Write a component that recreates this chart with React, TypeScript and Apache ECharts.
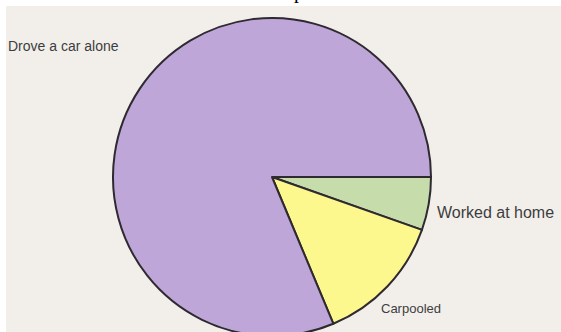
import React, { useEffect, useRef } from "react";
import * as echarts from "echarts";

const categories = ["Worked at home", "Carpooled", "Drove a car alone"];
const shares = [5.4, 13.3, 81.3];
const sliceColors = ["#c6dcab", "#fdf88d", "#bea6d9"];

export default function App() {
  const ref = useRef<HTMLDivElement>(null);
  useEffect(() => {
    if (!ref.current) return;
    const chart = echarts.init(ref.current, null, { renderer: "svg" });
    const labelPos: Record<number, [number, number]> = {
      0: [431, 206],
      1: [375, 302],
      2: [2, 40],
    };
    const labelSize = [16, 13, 14];
    chart.setOption({
      animation: false,
      backgroundColor: "#f2efeb",
      series: [
        {
          type: "pie",
          center: [266, 171],
          radius: [0, 159],
          startAngle: 0,
          clockwise: true,
          silent: true,
          data: categories.map((name, i) => ({
            name,
            value: shares[i],
            itemStyle: { color: sliceColors[i] },
            label: { fontSize: labelSize[i] },
          })),
          itemStyle: { borderColor: "#2e2a30", borderWidth: 2 },
          label: {
            show: true,
            position: "outside",
            formatter: "{b}",
            overflow: "none",
            width: 200,
            fontFamily: "Liberation Sans, Arial, sans-serif",
            color: "#3d3d3d",
          },
          labelLine: { show: false },
          labelLayout: (params: any) => {
            const p = labelPos[params.dataIndex];
            return { x: p[0], y: p[1], align: "left", verticalAlign: "middle" };
          },
          emphasis: { disabled: true },
        },
      ],
    });
    return () => chart.dispose();
  }, []);
  return (
    <div style={{ position: "fixed", left: 0, top: 0, width: 561, height: 332, background: "#fff", overflow: "hidden" }}>
      <div style={{ position: "absolute", left: 294, top: -19, fontFamily: "serif", fontSize: 20, lineHeight: "20px" }}>p</div>
      <div ref={ref} style={{ position: "absolute", left: 6, top: 6, width: 555, height: 326 }} />
    </div>
  );
}
